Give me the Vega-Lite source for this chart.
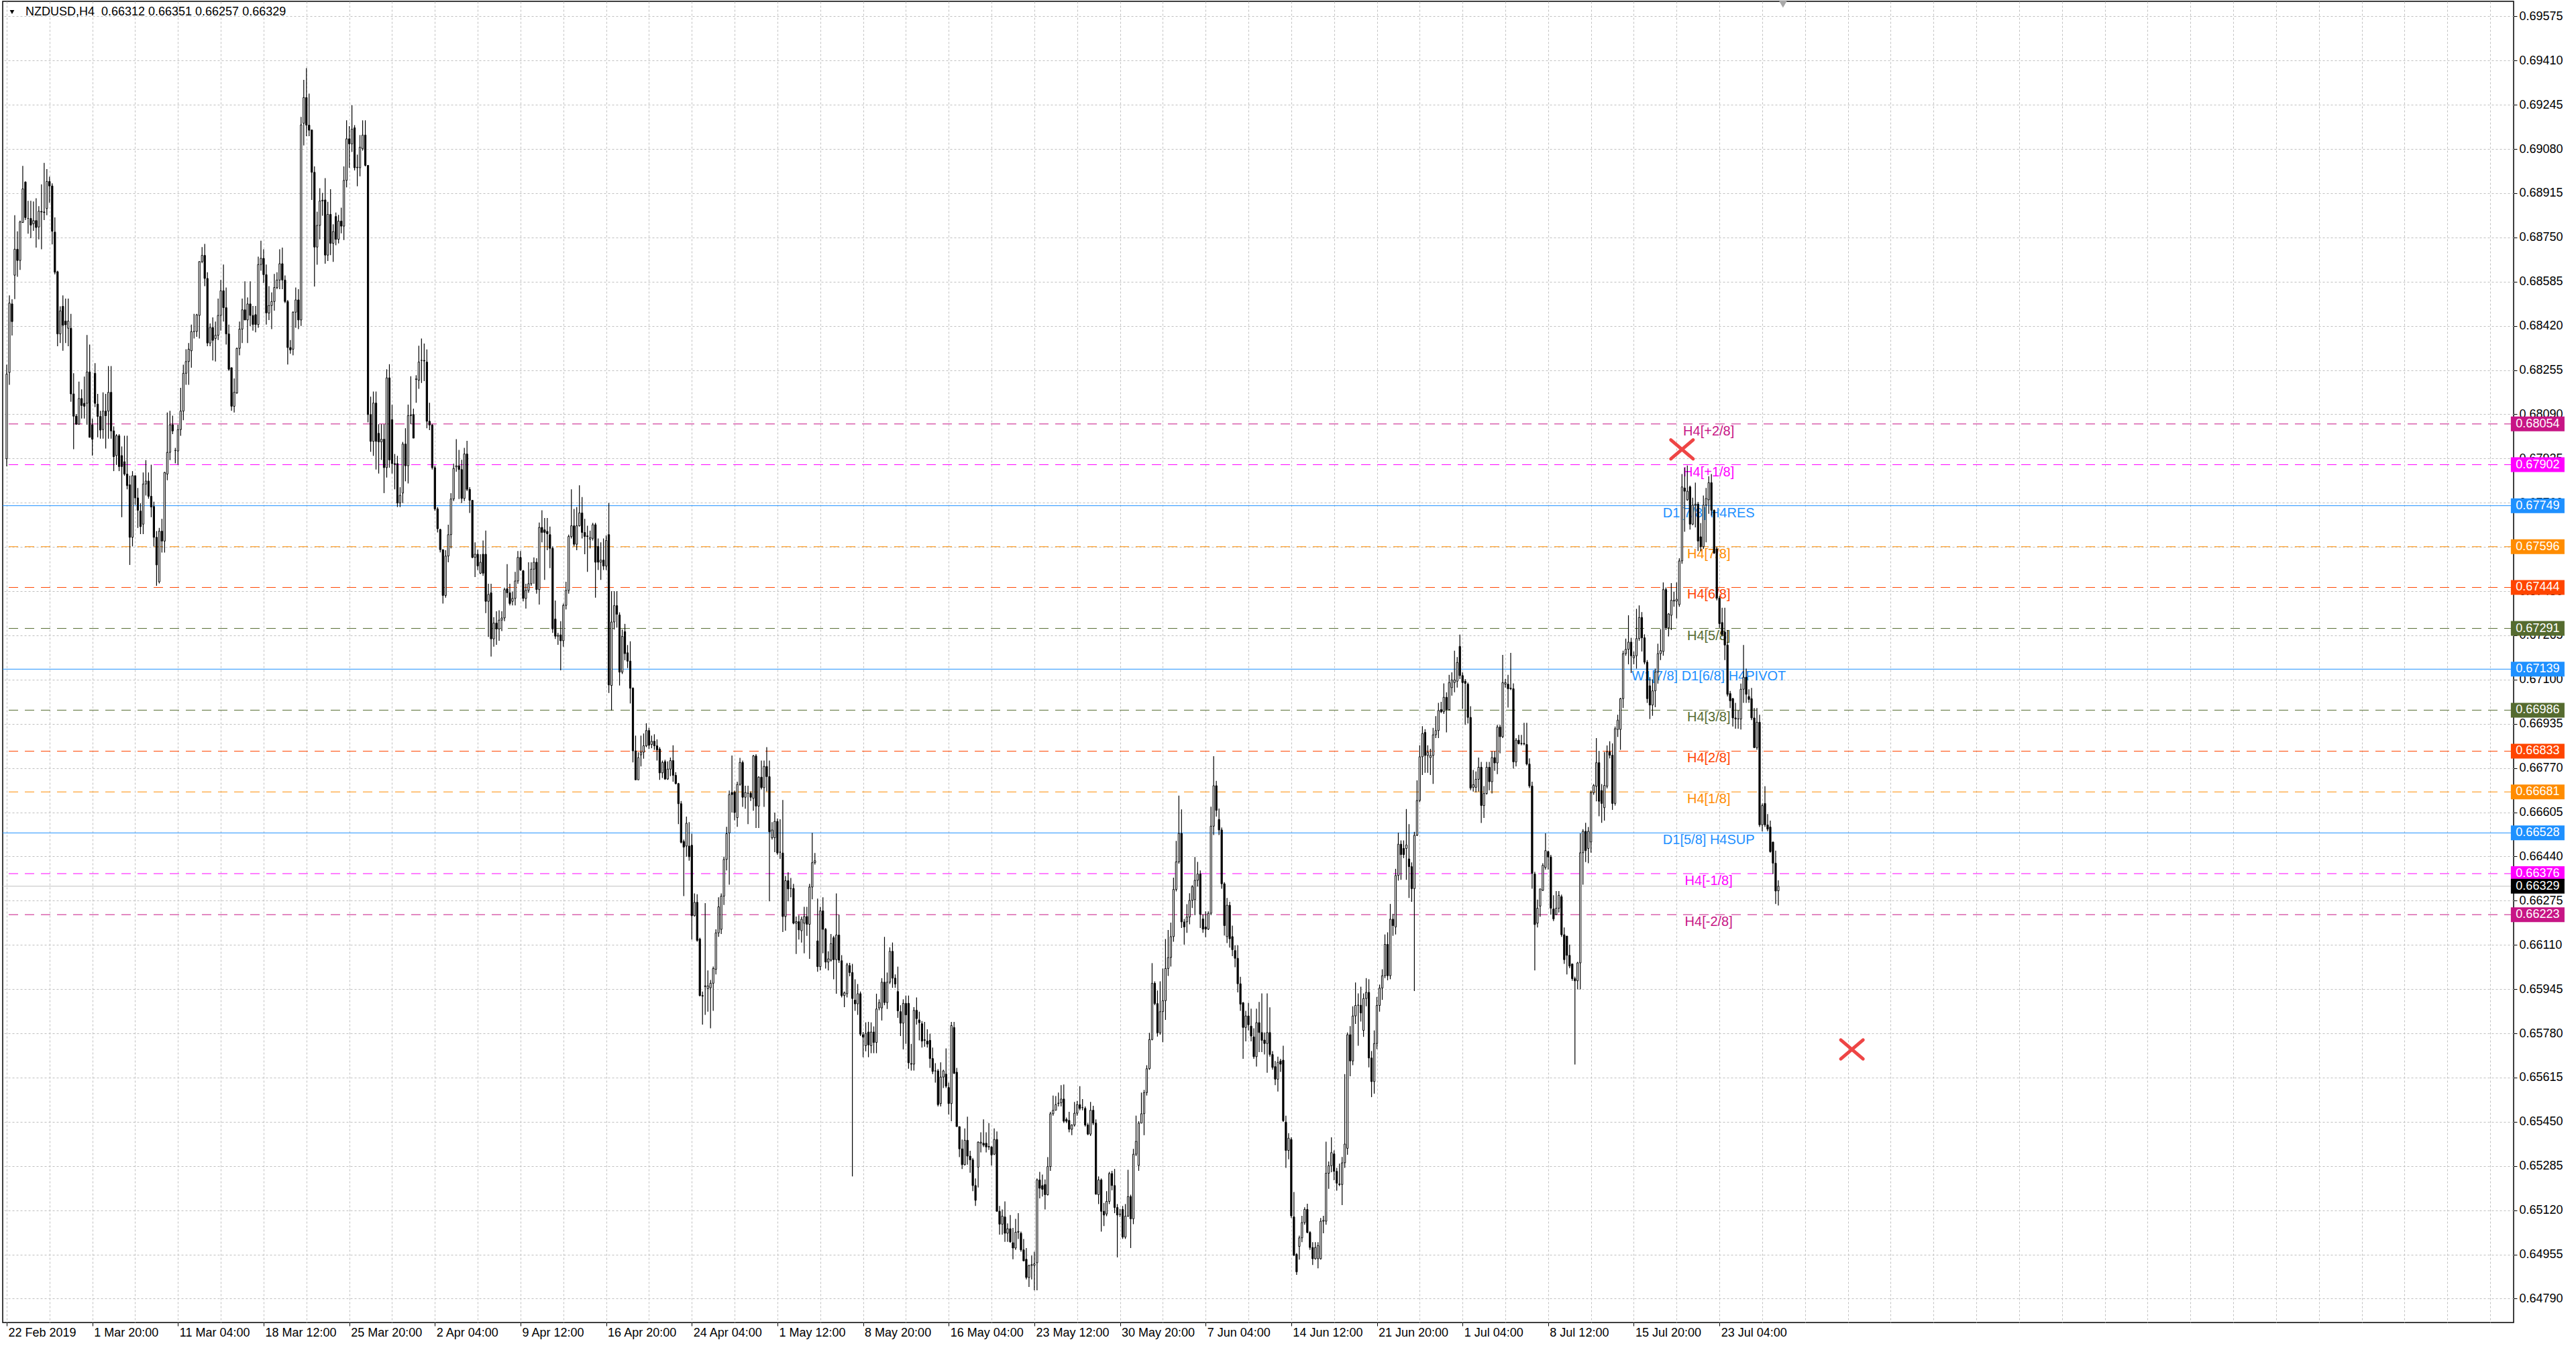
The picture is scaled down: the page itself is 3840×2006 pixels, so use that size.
{
  "$schema": "https://vega.github.io/schema/vega-lite/v6.json",
  "width": 3743,
  "height": 1969,
  "autosize": {"type": "none"},
  "padding": {"left": 4, "top": 2, "right": 93, "bottom": 35},
  "background": "#FFFFFF",
  "config": {
    "view": {"stroke": "#000000", "strokeWidth": 1.5},
    "font": "Liberation Sans",
    "axis": {
      "labelFont": "Liberation Sans",
      "labelFontSize": 18,
      "labelColor": "#000000",
      "gridColor": "#C0C0C0",
      "gridDash": [3, 3],
      "gridWidth": 1,
      "gridOpacity": 1,
      "domain": false,
      "tickColor": "#000000",
      "tickWidth": 1
    }
  },
  "datasets": {
    "levels": [
      {"m": "+2/8", "p": 0.68054, "t": "H4[+2/8]"},
      {"m": "+1/8", "p": 0.67902, "t": "H4[+1/8]"},
      {"m": "8/8", "p": 0.67749, "t": "D1[7/8] H4RES"},
      {"m": "7/8", "p": 0.67596, "t": "H4[7/8]"},
      {"m": "6/8", "p": 0.67444, "t": "H4[6/8]"},
      {"m": "5/8", "p": 0.67291, "t": "H4[5/8]"},
      {"m": "4/8", "p": 0.67139, "t": "W1[7/8] D1[6/8] H4PIVOT"},
      {"m": "3/8", "p": 0.66986, "t": "H4[3/8]"},
      {"m": "2/8", "p": 0.66833, "t": "H4[2/8]"},
      {"m": "1/8", "p": 0.66681, "t": "H4[1/8]"},
      {"m": "0/8", "p": 0.66528, "t": "D1[5/8] H4SUP"},
      {"m": "-1/8", "p": 0.66376, "t": "H4[-1/8]"},
      {"m": "-2/8", "p": 0.66223, "t": "H4[-2/8]"}
    ],
    "crosses": [
      {"i": 626, "p": 0.67959},
      {"i": 689.5, "p": 0.6572}
    ],
    "bars": [
{"i":0,"o":0.67924,"h":0.68275,"l":0.67896,"c":0.6824},
{"i":1,"o":0.68246,"h":0.68534,"l":0.682,"c":0.68505},
{"i":2,"o":0.68502,"h":0.68519,"l":0.68384,"c":0.68436},
{"i":3,"o":0.68609,"h":0.68833,"l":0.6852,"c":0.68706},
{"i":4,"o":0.68706,"h":0.68773,"l":0.68603,"c":0.68664},
{"i":5,"o":0.68664,"h":0.68813,"l":0.68629,"c":0.68808},
{"i":6,"o":0.68806,"h":0.69017,"l":0.68804,"c":0.68931},
{"i":7,"o":0.68957,"h":0.68959,"l":0.68815,"c":0.68824},
{"i":8,"o":0.68821,"h":0.68887,"l":0.68764,"c":0.68821},
{"i":9,"o":0.68821,"h":0.68887,"l":0.68747,"c":0.68796},
{"i":10,"o":0.68801,"h":0.68884,"l":0.68775,"c":0.68813},
{"i":11,"o":0.68813,"h":0.68896,"l":0.68712,"c":0.68787},
{"i":12,"o":0.68789,"h":0.68867,"l":0.68743,"c":0.68848},
{"i":13,"o":0.68847,"h":0.68948,"l":0.68706,"c":0.68845},
{"i":14,"o":0.68845,"h":0.69028,"l":0.68815,"c":0.68843},
{"i":15,"o":0.68858,"h":0.69005,"l":0.68833,"c":0.68959},
{"i":16,"o":0.68959,"h":0.68977,"l":0.68879,"c":0.68942},
{"i":17,"o":0.68942,"h":0.68952,"l":0.68724,"c":0.68773},
{"i":18,"o":0.6877,"h":0.68825,"l":0.68612,"c":0.6862},
{"i":19,"o":0.68622,"h":0.68626,"l":0.68344,"c":0.6839},
{"i":20,"o":0.6839,"h":0.68493,"l":0.68356,"c":0.68476},
{"i":21,"o":0.68493,"h":0.68534,"l":0.68327,"c":0.68422},
{"i":22,"o":0.68438,"h":0.68522,"l":0.68356,"c":0.68424},
{"i":23,"o":0.68411,"h":0.68522,"l":0.68344,"c":0.68438},
{"i":24,"o":0.68411,"h":0.68465,"l":0.68137,"c":0.68166},
{"i":25,"o":0.68166,"h":0.68243,"l":0.6796,"c":0.68083},
{"i":26,"o":0.68083,"h":0.68091,"l":0.68051,"c":0.68053},
{"i":27,"o":0.68053,"h":0.68212,"l":0.68051,"c":0.68149},
{"i":28,"o":0.68149,"h":0.68183,"l":0.68074,"c":0.68123},
{"i":29,"o":0.68131,"h":0.68231,"l":0.68074,"c":0.6812},
{"i":30,"o":0.68131,"h":0.68386,"l":0.68051,"c":0.68248},
{"i":31,"o":0.68248,"h":0.6835,"l":0.68004,"c":0.68004},
{"i":32,"o":0.68051,"h":0.68074,"l":0.67936,"c":0.67997},
{"i":33,"o":0.68243,"h":0.68281,"l":0.68117,"c":0.68131},
{"i":34,"o":0.68128,"h":0.68166,"l":0.68004,"c":0.68082},
{"i":35,"o":0.68082,"h":0.68103,"l":0.67999,"c":0.68031},
{"i":36,"o":0.68033,"h":0.68172,"l":0.67999,"c":0.68102},
{"i":37,"o":0.68102,"h":0.68166,"l":0.67962,"c":0.68085},
{"i":38,"o":0.68102,"h":0.6827,"l":0.67999,"c":0.68172},
{"i":39,"o":0.68172,"h":0.6827,"l":0.67999,"c":0.68028},
{"i":40,"o":0.68028,"h":0.68045,"l":0.67878,"c":0.67932},
{"i":41,"o":0.67936,"h":0.68016,"l":0.67901,"c":0.6801},
{"i":42,"o":0.6801,"h":0.68016,"l":0.67878,"c":0.67895},
{"i":43,"o":0.67936,"h":0.6797,"l":0.67706,"c":0.67895},
{"i":44,"o":0.67913,"h":0.6801,"l":0.67861,"c":0.67867},
{"i":45,"o":0.67867,"h":0.6801,"l":0.6781,"c":0.67824},
{"i":46,"o":0.67827,"h":0.67861,"l":0.67528,"c":0.67631},
{"i":47,"o":0.67631,"h":0.67878,"l":0.67597,"c":0.67861},
{"i":48,"o":0.67861,"h":0.67861,"l":0.67752,"c":0.67778},
{"i":49,"o":0.67778,"h":0.67815,"l":0.67666,"c":0.67732},
{"i":50,"o":0.67729,"h":0.67758,"l":0.67643,"c":0.67671},
{"i":51,"o":0.6768,"h":0.67873,"l":0.67643,"c":0.6783},
{"i":52,"o":0.6783,"h":0.67919,"l":0.67787,"c":0.67841},
{"i":53,"o":0.67841,"h":0.67873,"l":0.67775,"c":0.67784},
{"i":54,"o":0.67784,"h":0.67902,"l":0.67706,"c":0.67744},
{"i":55,"o":0.67746,"h":0.67764,"l":0.67597,"c":0.67631},
{"i":56,"o":0.67631,"h":0.67654,"l":0.6745,"c":0.67528},
{"i":57,"o":0.67465,"h":0.67666,"l":0.67459,"c":0.67654},
{"i":58,"o":0.67654,"h":0.677,"l":0.67574,"c":0.67617},
{"i":59,"o":0.67617,"h":0.67875,"l":0.67574,"c":0.67873},
{"i":60,"o":0.67867,"h":0.68097,"l":0.67844,"c":0.67948},
{"i":61,"o":0.67948,"h":0.68103,"l":0.67919,"c":0.68051},
{"i":62,"o":0.68051,"h":0.68085,"l":0.68016,"c":0.68028},
{"i":63,"o":0.67955,"h":0.67965,"l":0.67907,"c":0.67955},
{"i":64,"o":0.67953,"h":0.68051,"l":0.67902,"c":0.68033},
{"i":65,"o":0.68033,"h":0.68189,"l":0.6801,"c":0.68102},
{"i":66,"o":0.68102,"h":0.68275,"l":0.68068,"c":0.68243},
{"i":67,"o":0.68243,"h":0.68333,"l":0.682,"c":0.68287},
{"i":68,"o":0.68287,"h":0.68356,"l":0.682,"c":0.68333},
{"i":69,"o":0.68327,"h":0.68425,"l":0.68264,"c":0.68399},
{"i":70,"o":0.68399,"h":0.68465,"l":0.68373,"c":0.68399},
{"i":71,"o":0.68399,"h":0.68465,"l":0.68379,"c":0.68461},
{"i":72,"o":0.68459,"h":0.6866,"l":0.68373,"c":0.6866},
{"i":73,"o":0.6866,"h":0.68714,"l":0.68654,"c":0.68683},
{"i":74,"o":0.68683,"h":0.68726,"l":0.68568,"c":0.68597},
{"i":75,"o":0.68597,"h":0.6862,"l":0.68344,"c":0.68356},
{"i":76,"o":0.68356,"h":0.68429,"l":0.68344,"c":0.68414},
{"i":77,"o":0.68414,"h":0.68452,"l":0.68291,"c":0.68366},
{"i":78,"o":0.68373,"h":0.68436,"l":0.68287,"c":0.68385},
{"i":79,"o":0.68385,"h":0.68522,"l":0.68367,"c":0.68459},
{"i":80,"o":0.68459,"h":0.68591,"l":0.68402,"c":0.68551},
{"i":81,"o":0.68551,"h":0.68649,"l":0.68436,"c":0.68488},
{"i":82,"o":0.68488,"h":0.68563,"l":0.6835,"c":0.6839},
{"i":83,"o":0.6839,"h":0.68425,"l":0.68252,"c":0.68258},
{"i":84,"o":0.68264,"h":0.68264,"l":0.68103,"c":0.6812},
{"i":85,"o":0.6812,"h":0.68224,"l":0.68097,"c":0.68172},
{"i":86,"o":0.6817,"h":0.68339,"l":0.68166,"c":0.68336},
{"i":87,"o":0.68336,"h":0.68436,"l":0.6831,"c":0.68408},
{"i":88,"o":0.68408,"h":0.68522,"l":0.68356,"c":0.6848},
{"i":89,"o":0.6848,"h":0.68586,"l":0.68442,"c":0.68442},
{"i":90,"o":0.68442,"h":0.68526,"l":0.68356,"c":0.68502},
{"i":91,"o":0.68502,"h":0.68586,"l":0.68419,"c":0.68459},
{"i":92,"o":0.68459,"h":0.68494,"l":0.68402,"c":0.68425},
{"i":93,"o":0.68462,"h":0.68494,"l":0.68396,"c":0.68425},
{"i":94,"o":0.68425,"h":0.68678,"l":0.68413,"c":0.68649},
{"i":95,"o":0.68649,"h":0.68738,"l":0.68626,"c":0.68672},
{"i":96,"o":0.68672,"h":0.68706,"l":0.6858,"c":0.68611},
{"i":97,"o":0.68611,"h":0.68649,"l":0.68425,"c":0.68468},
{"i":98,"o":0.68468,"h":0.68568,"l":0.68442,"c":0.68496},
{"i":99,"o":0.68496,"h":0.68545,"l":0.68408,"c":0.68511},
{"i":100,"o":0.68511,"h":0.68614,"l":0.68477,"c":0.68563},
{"i":101,"o":0.68563,"h":0.6862,"l":0.68557,"c":0.68591},
{"i":102,"o":0.68591,"h":0.68706,"l":0.68557,"c":0.68652},
{"i":103,"o":0.68652,"h":0.68712,"l":0.68557,"c":0.68591},
{"i":104,"o":0.68591,"h":0.68608,"l":0.68505,"c":0.68511},
{"i":105,"o":0.68511,"h":0.68517,"l":0.68276,"c":0.68339},
{"i":106,"o":0.68339,"h":0.68367,"l":0.68316,"c":0.6833},
{"i":107,"o":0.68333,"h":0.68474,"l":0.6831,"c":0.68471},
{"i":108,"o":0.68471,"h":0.68563,"l":0.68413,"c":0.68517},
{"i":109,"o":0.68517,"h":0.68557,"l":0.68408,"c":0.68442},
{"i":110,"o":0.68442,"h":0.692,"l":0.6842,"c":0.6917},
{"i":111,"o":0.69176,"h":0.69338,"l":0.69093,"c":0.69272},
{"i":112,"o":0.69272,"h":0.69382,"l":0.69128,"c":0.69169},
{"i":113,"o":0.69169,"h":0.69287,"l":0.69128,"c":0.6915},
{"i":114,"o":0.69151,"h":0.69151,"l":0.6889,"c":0.68993},
{"i":115,"o":0.68993,"h":0.69015,"l":0.68567,"c":0.68714},
{"i":116,"o":0.68714,"h":0.68846,"l":0.68648,"c":0.68795},
{"i":117,"o":0.68795,"h":0.68934,"l":0.68743,"c":0.68886},
{"i":118,"o":0.68886,"h":0.68916,"l":0.68831,"c":0.68889},
{"i":119,"o":0.6889,"h":0.68971,"l":0.68652,"c":0.68684},
{"i":120,"o":0.68684,"h":0.68883,"l":0.68662,"c":0.68836},
{"i":121,"o":0.68836,"h":0.6893,"l":0.68684,"c":0.68728},
{"i":122,"o":0.68728,"h":0.68799,"l":0.68659,"c":0.68772},
{"i":123,"o":0.68828,"h":0.68843,"l":0.68721,"c":0.68743},
{"i":124,"o":0.68743,"h":0.68834,"l":0.68728,"c":0.68811},
{"i":125,"o":0.68811,"h":0.68861,"l":0.68765,"c":0.68792},
{"i":126,"o":0.68792,"h":0.69015,"l":0.6874,"c":0.68963},
{"i":127,"o":0.68963,"h":0.69187,"l":0.68937,"c":0.69118},
{"i":128,"o":0.69118,"h":0.69165,"l":0.6901,"c":0.69099},
{"i":129,"o":0.69099,"h":0.69243,"l":0.69069,"c":0.69154},
{"i":130,"o":0.69159,"h":0.69169,"l":0.69,"c":0.6901},
{"i":131,"o":0.6901,"h":0.69059,"l":0.68941,"c":0.69012},
{"i":132,"o":0.6901,"h":0.69132,"l":0.68978,"c":0.69087},
{"i":133,"o":0.69081,"h":0.69187,"l":0.69074,"c":0.69132},
{"i":134,"o":0.69132,"h":0.69187,"l":0.69015,"c":0.69019},
{"i":135,"o":0.69019,"h":0.69019,"l":0.6806,"c":0.68089},
{"i":136,"o":0.68089,"h":0.68156,"l":0.6795,"c":0.67989},
{"i":137,"o":0.67989,"h":0.68175,"l":0.67935,"c":0.68132},
{"i":138,"o":0.68132,"h":0.68175,"l":0.67884,"c":0.67989},
{"i":139,"o":0.68019,"h":0.68053,"l":0.67869,"c":0.67987},
{"i":140,"o":0.67987,"h":0.68053,"l":0.6792,"c":0.67997},
{"i":141,"o":0.67997,"h":0.68053,"l":0.67796,"c":0.67891},
{"i":142,"o":0.67891,"h":0.68258,"l":0.67854,"c":0.68226},
{"i":143,"o":0.68226,"h":0.68277,"l":0.67891,"c":0.6792},
{"i":144,"o":0.6807,"h":0.68126,"l":0.67869,"c":0.67906},
{"i":145,"o":0.67906,"h":0.67942,"l":0.6781,"c":0.67903},
{"i":146,"o":0.67906,"h":0.67935,"l":0.67744,"c":0.67759},
{"i":147,"o":0.67759,"h":0.67818,"l":0.67744,"c":0.67788},
{"i":148,"o":0.67796,"h":0.67987,"l":0.67759,"c":0.67979},
{"i":149,"o":0.67979,"h":0.68038,"l":0.6784,"c":0.67898},
{"i":150,"o":0.67898,"h":0.68126,"l":0.67832,"c":0.68085},
{"i":151,"o":0.68085,"h":0.68232,"l":0.68053,"c":0.68088},
{"i":152,"o":0.68089,"h":0.68111,"l":0.68001,"c":0.68001},
{"i":153,"o":0.6822,"h":0.68236,"l":0.68133,"c":0.68222},
{"i":154,"o":0.68217,"h":0.68346,"l":0.68185,"c":0.68285},
{"i":155,"o":0.68291,"h":0.68373,"l":0.68207,"c":0.68291},
{"i":156,"o":0.68291,"h":0.68354,"l":0.68214,"c":0.68289},
{"i":157,"o":0.68285,"h":0.68332,"l":0.68038,"c":0.68064},
{"i":158,"o":0.68064,"h":0.68133,"l":0.68031,"c":0.6805},
{"i":159,"o":0.6805,"h":0.68053,"l":0.67884,"c":0.67891},
{"i":160,"o":0.67891,"h":0.67898,"l":0.6773,"c":0.67737},
{"i":161,"o":0.67737,"h":0.67744,"l":0.67649,"c":0.67663},
{"i":162,"o":0.6766,"h":0.67663,"l":0.67575,"c":0.67585},
{"i":163,"o":0.67585,"h":0.67585,"l":0.67384,"c":0.67414},
{"i":164,"o":0.67414,"h":0.67583,"l":0.67406,"c":0.67561},
{"i":165,"o":0.67561,"h":0.67678,"l":0.67538,"c":0.67641},
{"i":166,"o":0.67641,"h":0.67796,"l":0.6759,"c":0.67774},
{"i":167,"o":0.67774,"h":0.67906,"l":0.67766,"c":0.67888},
{"i":168,"o":0.67894,"h":0.67997,"l":0.67876,"c":0.67898},
{"i":169,"o":0.67898,"h":0.67957,"l":0.67774,"c":0.67884},
{"i":170,"o":0.67884,"h":0.6792,"l":0.67759,"c":0.67776},
{"i":171,"o":0.67776,"h":0.67965,"l":0.67766,"c":0.67942},
{"i":172,"o":0.67942,"h":0.67991,"l":0.67803,"c":0.6781},
{"i":173,"o":0.6781,"h":0.67818,"l":0.67722,"c":0.67769},
{"i":174,"o":0.67769,"h":0.67769,"l":0.67553,"c":0.67556},
{"i":175,"o":0.67556,"h":0.67612,"l":0.67483,"c":0.67568},
{"i":176,"o":0.67568,"h":0.67585,"l":0.67509,"c":0.67524},
{"i":177,"o":0.67497,"h":0.67568,"l":0.67494,"c":0.67538},
{"i":178,"o":0.67568,"h":0.67619,"l":0.67487,"c":0.67497},
{"i":179,"o":0.67568,"h":0.67656,"l":0.67348,"c":0.67392},
{"i":180,"o":0.67392,"h":0.67458,"l":0.67259,"c":0.67418},
{"i":181,"o":0.67424,"h":0.67458,"l":0.67186,"c":0.67252},
{"i":182,"o":0.67252,"h":0.67333,"l":0.67223,"c":0.67311},
{"i":183,"o":0.67311,"h":0.67355,"l":0.6723,"c":0.67289},
{"i":184,"o":0.67289,"h":0.67359,"l":0.67245,"c":0.67322},
{"i":185,"o":0.67322,"h":0.67355,"l":0.67281,"c":0.6733},
{"i":186,"o":0.6733,"h":0.67443,"l":0.67318,"c":0.67436},
{"i":187,"o":0.67439,"h":0.67531,"l":0.67406,"c":0.67424},
{"i":188,"o":0.67424,"h":0.67458,"l":0.67377,"c":0.67384},
{"i":189,"o":0.67392,"h":0.67428,"l":0.67377,"c":0.67403},
{"i":190,"o":0.67403,"h":0.67502,"l":0.67377,"c":0.67468},
{"i":191,"o":0.67468,"h":0.6758,"l":0.67458,"c":0.67556},
{"i":192,"o":0.67556,"h":0.6758,"l":0.67506,"c":0.67509},
{"i":193,"o":0.67506,"h":0.67509,"l":0.67392,"c":0.67403},
{"i":194,"o":0.67403,"h":0.67458,"l":0.67365,"c":0.67433},
{"i":195,"o":0.67433,"h":0.67538,"l":0.67424,"c":0.67458},
{"i":196,"o":0.67458,"h":0.67538,"l":0.6745,"c":0.67512},
{"i":197,"o":0.67512,"h":0.67556,"l":0.67458,"c":0.67538},
{"i":198,"o":0.67538,"h":0.67553,"l":0.67421,"c":0.67436},
{"i":199,"o":0.67436,"h":0.67686,"l":0.6738,"c":0.67668},
{"i":200,"o":0.67668,"h":0.67732,"l":0.67612,"c":0.67649},
{"i":201,"o":0.67659,"h":0.67703,"l":0.67472,"c":0.67649},
{"i":202,"o":0.67653,"h":0.67703,"l":0.67583,"c":0.67644},
{"i":203,"o":0.67641,"h":0.67671,"l":0.67516,"c":0.6759},
{"i":204,"o":0.6759,"h":0.67597,"l":0.67274,"c":0.67289},
{"i":205,"o":0.67326,"h":0.67395,"l":0.67252,"c":0.67262},
{"i":206,"o":0.67262,"h":0.67274,"l":0.6723,"c":0.67265},
{"i":207,"o":0.67267,"h":0.67318,"l":0.67135,"c":0.67245},
{"i":208,"o":0.67245,"h":0.67384,"l":0.67223,"c":0.67377},
{"i":209,"o":0.67377,"h":0.67465,"l":0.67362,"c":0.67433},
{"i":210,"o":0.67433,"h":0.67641,"l":0.67421,"c":0.67634},
{"i":211,"o":0.67634,"h":0.6781,"l":0.67627,"c":0.67674},
{"i":212,"o":0.67674,"h":0.67737,"l":0.67597,"c":0.67605},
{"i":213,"o":0.67605,"h":0.67744,"l":0.67583,"c":0.67674},
{"i":214,"o":0.67674,"h":0.67825,"l":0.67671,"c":0.67722},
{"i":215,"o":0.67722,"h":0.67781,"l":0.67627,"c":0.67649},
{"i":216,"o":0.67649,"h":0.677,"l":0.67568,"c":0.67634},
{"i":217,"o":0.67636,"h":0.67674,"l":0.67502,"c":0.67634},
{"i":218,"o":0.67624,"h":0.67656,"l":0.6759,"c":0.6763},
{"i":219,"o":0.67627,"h":0.67685,"l":0.67619,"c":0.67678},
{"i":220,"o":0.67678,"h":0.67685,"l":0.67406,"c":0.67538},
{"i":221,"o":0.67597,"h":0.67627,"l":0.67509,"c":0.67538},
{"i":222,"o":0.67538,"h":0.67612,"l":0.67472,"c":0.67546},
{"i":223,"o":0.67546,"h":0.67627,"l":0.67509,"c":0.67524},
{"i":224,"o":0.67524,"h":0.67638,"l":0.67509,"c":0.67619},
{"i":225,"o":0.67641,"h":0.67759,"l":0.6705,"c":0.6708},
{"i":226,"o":0.67078,"h":0.6743,"l":0.66985,"c":0.67315},
{"i":227,"o":0.67315,"h":0.6743,"l":0.67287,"c":0.67376},
{"i":228,"o":0.67376,"h":0.6743,"l":0.67294,"c":0.67344},
{"i":229,"o":0.67341,"h":0.67351,"l":0.67078,"c":0.67128},
{"i":230,"o":0.67128,"h":0.67287,"l":0.67121,"c":0.67261},
{"i":231,"o":0.67279,"h":0.67308,"l":0.67172,"c":0.67197},
{"i":232,"o":0.672,"h":0.67229,"l":0.67143,"c":0.67169},
{"i":233,"o":0.67169,"h":0.67243,"l":0.67011,"c":0.67068},
{"i":234,"o":0.67068,"h":0.67071,"l":0.66791,"c":0.66834},
{"i":235,"o":0.66834,"h":0.66891,"l":0.66726,"c":0.66726},
{"i":236,"o":0.66726,"h":0.66829,"l":0.66726,"c":0.66809},
{"i":237,"o":0.66819,"h":0.66891,"l":0.66776,"c":0.66829},
{"i":238,"o":0.66829,"h":0.66899,"l":0.66805,"c":0.66853},
{"i":239,"o":0.66853,"h":0.66937,"l":0.66848,"c":0.6691},
{"i":240,"o":0.6691,"h":0.6692,"l":0.66841,"c":0.66855},
{"i":241,"o":0.66858,"h":0.66891,"l":0.66844,"c":0.6687},
{"i":242,"o":0.6687,"h":0.66896,"l":0.66838,"c":0.66853},
{"i":243,"o":0.66853,"h":0.66877,"l":0.66798,"c":0.66838},
{"i":244,"o":0.66841,"h":0.66848,"l":0.66726,"c":0.66752},
{"i":245,"o":0.66752,"h":0.66798,"l":0.66733,"c":0.66791},
{"i":246,"o":0.66794,"h":0.66801,"l":0.66726,"c":0.66729},
{"i":247,"o":0.66729,"h":0.66795,"l":0.66726,"c":0.66766},
{"i":248,"o":0.66766,"h":0.66809,"l":0.6674,"c":0.66798},
{"i":249,"o":0.66798,"h":0.66855,"l":0.66719,"c":0.66743},
{"i":250,"o":0.66743,"h":0.66755,"l":0.66709,"c":0.66712},
{"i":251,"o":0.66712,"h":0.66715,"l":0.66561,"c":0.66637},
{"i":252,"o":0.66637,"h":0.66647,"l":0.66489,"c":0.66493},
{"i":253,"o":0.66496,"h":0.66503,"l":0.66292,"c":0.66475},
{"i":254,"o":0.66479,"h":0.66589,"l":0.66439,"c":0.66564},
{"i":255,"o":0.66479,"h":0.66568,"l":0.66424,"c":0.66439},
{"i":256,"o":0.66482,"h":0.66525,"l":0.6613,"c":0.66219},
{"i":257,"o":0.66219,"h":0.66302,"l":0.66216,"c":0.66269},
{"i":258,"o":0.66269,"h":0.66299,"l":0.66122,"c":0.66127},
{"i":259,"o":0.66132,"h":0.66137,"l":0.65918,"c":0.65921},
{"i":260,"o":0.65921,"h":0.65936,"l":0.65813,"c":0.65919},
{"i":261,"o":0.65957,"h":0.66266,"l":0.65849,"c":0.65955},
{"i":262,"o":0.65947,"h":0.66015,"l":0.65861,"c":0.65957},
{"i":263,"o":0.6595,"h":0.65979,"l":0.65799,"c":0.65967},
{"i":264,"o":0.65967,"h":0.66029,"l":0.65864,"c":0.66022},
{"i":265,"o":0.66019,"h":0.66168,"l":0.66,"c":0.66155},
{"i":266,"o":0.66155,"h":0.66288,"l":0.6614,"c":0.66252},
{"i":267,"o":0.66168,"h":0.66302,"l":0.66151,"c":0.66292},
{"i":268,"o":0.66292,"h":0.66439,"l":0.66259,"c":0.66429},
{"i":269,"o":0.66429,"h":0.66551,"l":0.66388,"c":0.66525},
{"i":270,"o":0.66528,"h":0.66686,"l":0.66335,"c":0.66671},
{"i":271,"o":0.66679,"h":0.66817,"l":0.66604,"c":0.66671},
{"i":272,"o":0.6668,"h":0.66686,"l":0.66575,"c":0.66604},
{"i":273,"o":0.66585,"h":0.66719,"l":0.66551,"c":0.66709},
{"i":274,"o":0.66709,"h":0.66808,"l":0.66704,"c":0.66791},
{"i":275,"o":0.66791,"h":0.66798,"l":0.66625,"c":0.66661},
{"i":276,"o":0.66661,"h":0.66704,"l":0.66618,"c":0.66679},
{"i":277,"o":0.66676,"h":0.66704,"l":0.66561,"c":0.66676},
{"i":278,"o":0.66676,"h":0.66683,"l":0.66647,"c":0.66661},
{"i":279,"o":0.66657,"h":0.66819,"l":0.66611,"c":0.66815},
{"i":280,"o":0.66815,"h":0.66822,"l":0.66546,"c":0.66628},
{"i":281,"o":0.66628,"h":0.6674,"l":0.66546,"c":0.66736},
{"i":282,"o":0.66736,"h":0.66798,"l":0.6669,"c":0.66697},
{"i":283,"o":0.66697,"h":0.66798,"l":0.66625,"c":0.66776},
{"i":284,"o":0.66776,"h":0.66848,"l":0.66683,"c":0.66738},
{"i":285,"o":0.66738,"h":0.66798,"l":0.66273,"c":0.66532},
{"i":286,"o":0.6651,"h":0.66568,"l":0.66503,"c":0.66539},
{"i":287,"o":0.6651,"h":0.66604,"l":0.66456,"c":0.66571},
{"i":288,"o":0.66571,"h":0.66582,"l":0.66446,"c":0.66453},
{"i":289,"o":0.66456,"h":0.66579,"l":0.66431,"c":0.66456},
{"i":290,"o":0.66453,"h":0.66651,"l":0.66158,"c":0.66216},
{"i":291,"o":0.66216,"h":0.66367,"l":0.66163,"c":0.6635},
{"i":292,"o":0.6635,"h":0.66381,"l":0.66273,"c":0.66319},
{"i":293,"o":0.66321,"h":0.6636,"l":0.66288,"c":0.66321},
{"i":294,"o":0.66321,"h":0.66338,"l":0.66187,"c":0.66191},
{"i":295,"o":0.66191,"h":0.66216,"l":0.66076,"c":0.66197},
{"i":296,"o":0.66197,"h":0.6622,"l":0.6613,"c":0.66166},
{"i":297,"o":0.66163,"h":0.66216,"l":0.66119,"c":0.66206},
{"i":298,"o":0.66191,"h":0.66252,"l":0.66079,"c":0.66216},
{"i":299,"o":0.66216,"h":0.66252,"l":0.66144,"c":0.66187},
{"i":300,"o":0.66187,"h":0.66338,"l":0.66058,"c":0.66326},
{"i":301,"o":0.66326,"h":0.66528,"l":0.6628,"c":0.66417},
{"i":302,"o":0.66417,"h":0.66453,"l":0.6641,"c":0.66424},
{"i":303,"o":0.66125,"h":0.66283,"l":0.6601,"c":0.66029},
{"i":304,"o":0.66029,"h":0.66252,"l":0.66015,"c":0.66237},
{"i":305,"o":0.66237,"h":0.66288,"l":0.66079,"c":0.66168},
{"i":306,"o":0.66168,"h":0.66173,"l":0.66022,"c":0.66046},
{"i":307,"o":0.66046,"h":0.66086,"l":0.66015,"c":0.66058},
{"i":308,"o":0.66053,"h":0.66151,"l":0.66048,"c":0.66115},
{"i":309,"o":0.66137,"h":0.66144,"l":0.65982,"c":0.66055},
{"i":310,"o":0.66055,"h":0.66302,"l":0.65928,"c":0.66147},
{"i":311,"o":0.66147,"h":0.66223,"l":0.66043,"c":0.66053},
{"i":312,"o":0.66051,"h":0.66072,"l":0.65914,"c":0.65921},
{"i":313,"o":0.65921,"h":0.65936,"l":0.65878,"c":0.65931},
{"i":314,"o":0.65928,"h":0.66043,"l":0.65914,"c":0.66036},
{"i":315,"o":0.66033,"h":0.66043,"l":0.65993,"c":0.66007},
{"i":316,"o":0.66007,"h":0.66039,"l":0.65246,"c":0.6591},
{"i":317,"o":0.65904,"h":0.65982,"l":0.65864,"c":0.6589},
{"i":318,"o":0.6589,"h":0.65964,"l":0.65849,"c":0.65928},
{"i":319,"o":0.65928,"h":0.65936,"l":0.6577,"c":0.65777},
{"i":320,"o":0.65775,"h":0.65785,"l":0.65691,"c":0.65766},
{"i":321,"o":0.65734,"h":0.65821,"l":0.65713,"c":0.6578},
{"i":322,"o":0.65785,"h":0.65823,"l":0.65691,"c":0.65737},
{"i":323,"o":0.65734,"h":0.65821,"l":0.65706,"c":0.65785},
{"i":324,"o":0.65785,"h":0.65806,"l":0.65706,"c":0.65746},
{"i":325,"o":0.65746,"h":0.65928,"l":0.65706,"c":0.65871},
{"i":326,"o":0.65875,"h":0.65907,"l":0.65866,"c":0.65895},
{"i":327,"o":0.65875,"h":0.65986,"l":0.65828,"c":0.65971},
{"i":328,"o":0.65971,"h":0.6614,"l":0.65885,"c":0.65895},
{"i":329,"o":0.65895,"h":0.66007,"l":0.65871,"c":0.65971},
{"i":330,"o":0.65971,"h":0.66101,"l":0.65964,"c":0.66086},
{"i":331,"o":0.66086,"h":0.66119,"l":0.6595,"c":0.65986},
{"i":332,"o":0.65986,"h":0.66,"l":0.6595,"c":0.65964},
{"i":333,"o":0.65936,"h":0.66029,"l":0.65838,"c":0.65864},
{"i":334,"o":0.65861,"h":0.65885,"l":0.6577,"c":0.65818},
{"i":335,"o":0.65818,"h":0.65907,"l":0.6572,"c":0.65892},
{"i":336,"o":0.65892,"h":0.65921,"l":0.65741,"c":0.65849},
{"i":337,"o":0.65892,"h":0.65921,"l":0.65648,"c":0.6567},
{"i":338,"o":0.65667,"h":0.65741,"l":0.65641,"c":0.65665},
{"i":339,"o":0.65665,"h":0.65878,"l":0.65641,"c":0.65866},
{"i":340,"o":0.65866,"h":0.65914,"l":0.65813,"c":0.65835},
{"i":341,"o":0.6583,"h":0.65861,"l":0.65754,"c":0.6582},
{"i":342,"o":0.65816,"h":0.65826,"l":0.65727,"c":0.65751},
{"i":343,"o":0.65756,"h":0.65823,"l":0.6573,"c":0.65754},
{"i":344,"o":0.65751,"h":0.65795,"l":0.65727,"c":0.6574},
{"i":345,"o":0.65754,"h":0.65779,"l":0.65651,"c":0.65686},
{"i":346,"o":0.65686,"h":0.65727,"l":0.65628,"c":0.65638},
{"i":347,"o":0.6564,"h":0.65669,"l":0.65596,"c":0.6564},
{"i":348,"o":0.6564,"h":0.65647,"l":0.65507,"c":0.65514},
{"i":349,"o":0.65518,"h":0.65672,"l":0.65507,"c":0.65617},
{"i":350,"o":0.65617,"h":0.65644,"l":0.65576,"c":0.6564},
{"i":351,"o":0.65628,"h":0.65724,"l":0.65576,"c":0.65583},
{"i":352,"o":0.65578,"h":0.65596,"l":0.65477,"c":0.65518},
{"i":353,"o":0.65518,"h":0.65823,"l":0.65452,"c":0.65809},
{"i":354,"o":0.65802,"h":0.65823,"l":0.65628,"c":0.65631},
{"i":355,"o":0.65635,"h":0.65651,"l":0.65432,"c":0.65432},
{"i":356,"o":0.65432,"h":0.65432,"l":0.65318,"c":0.65349},
{"i":357,"o":0.65349,"h":0.65384,"l":0.65274,"c":0.6529},
{"i":358,"o":0.6529,"h":0.65425,"l":0.65287,"c":0.65381},
{"i":359,"o":0.65381,"h":0.65469,"l":0.6529,"c":0.65322},
{"i":360,"o":0.65322,"h":0.65342,"l":0.6526,"c":0.65308},
{"i":361,"o":0.65308,"h":0.65315,"l":0.65191,"c":0.65212},
{"i":362,"o":0.65212,"h":0.65239,"l":0.65136,"c":0.65157},
{"i":363,"o":0.65281,"h":0.65377,"l":0.65205,"c":0.65374},
{"i":364,"o":0.6537,"h":0.65411,"l":0.65336,"c":0.65374},
{"i":365,"o":0.6537,"h":0.65459,"l":0.65356,"c":0.65363},
{"i":366,"o":0.6537,"h":0.65411,"l":0.65336,"c":0.65356},
{"i":367,"o":0.65358,"h":0.65445,"l":0.65345,"c":0.65356},
{"i":368,"o":0.65356,"h":0.65359,"l":0.65287,"c":0.65326},
{"i":369,"o":0.65329,"h":0.65425,"l":0.65326,"c":0.65384},
{"i":370,"o":0.65384,"h":0.65414,"l":0.65116,"c":0.65116},
{"i":371,"o":0.65116,"h":0.65136,"l":0.65029,"c":0.65068},
{"i":372,"o":0.65068,"h":0.65123,"l":0.65029,"c":0.65098},
{"i":373,"o":0.65095,"h":0.65153,"l":0.65002,"c":0.65034},
{"i":374,"o":0.65034,"h":0.65071,"l":0.65002,"c":0.65051},
{"i":375,"o":0.65051,"h":0.65102,"l":0.64999,"c":0.65002},
{"i":376,"o":0.64999,"h":0.65054,"l":0.64937,"c":0.64979},
{"i":377,"o":0.64979,"h":0.65088,"l":0.64972,"c":0.65038},
{"i":378,"o":0.65038,"h":0.65109,"l":0.65013,"c":0.65041},
{"i":379,"o":0.65034,"h":0.6504,"l":0.64965,"c":0.64972},
{"i":380,"o":0.64972,"h":0.65013,"l":0.64931,"c":0.64931},
{"i":381,"o":0.64937,"h":0.64979,"l":0.64862,"c":0.64869},
{"i":382,"o":0.64869,"h":0.64917,"l":0.64834,"c":0.64914},
{"i":383,"o":0.64914,"h":0.64951,"l":0.64862,"c":0.64917},
{"i":384,"o":0.64914,"h":0.64965,"l":0.64821,"c":0.6492},
{"i":385,"o":0.64924,"h":0.65239,"l":0.64821,"c":0.65233},
{"i":386,"o":0.65233,"h":0.65263,"l":0.65164,"c":0.65202},
{"i":387,"o":0.65212,"h":0.65253,"l":0.65171,"c":0.65198},
{"i":388,"o":0.65216,"h":0.65235,"l":0.65123,"c":0.65178},
{"i":389,"o":0.65178,"h":0.65318,"l":0.65175,"c":0.65283},
{"i":390,"o":0.65283,"h":0.65487,"l":0.65267,"c":0.6548},
{"i":391,"o":0.6548,"h":0.65548,"l":0.65473,"c":0.65493},
{"i":392,"o":0.65493,"h":0.65546,"l":0.65493,"c":0.65514},
{"i":393,"o":0.65518,"h":0.65559,"l":0.65507,"c":0.6552},
{"i":394,"o":0.65521,"h":0.65587,"l":0.65507,"c":0.65535},
{"i":395,"o":0.65535,"h":0.65589,"l":0.65445,"c":0.65452},
{"i":396,"o":0.65459,"h":0.65466,"l":0.65445,"c":0.65452},
{"i":397,"o":0.65455,"h":0.65487,"l":0.65411,"c":0.65422},
{"i":398,"o":0.65422,"h":0.65441,"l":0.654,"c":0.65438},
{"i":399,"o":0.65438,"h":0.65524,"l":0.65432,"c":0.65482},
{"i":400,"o":0.65482,"h":0.65528,"l":0.65473,"c":0.65514},
{"i":401,"o":0.65514,"h":0.65583,"l":0.65493,"c":0.655},
{"i":402,"o":0.65503,"h":0.65535,"l":0.65493,"c":0.65503},
{"i":403,"o":0.655,"h":0.65507,"l":0.65432,"c":0.65438},
{"i":404,"o":0.65438,"h":0.65445,"l":0.654,"c":0.65404},
{"i":405,"o":0.65404,"h":0.65524,"l":0.65397,"c":0.65493},
{"i":406,"o":0.65493,"h":0.6551,"l":0.65438,"c":0.65445},
{"i":407,"o":0.65445,"h":0.65459,"l":0.65178,"c":0.6518},
{"i":408,"o":0.65178,"h":0.65246,"l":0.65143,"c":0.65233},
{"i":409,"o":0.65233,"h":0.65239,"l":0.6504,"c":0.65116},
{"i":410,"o":0.65116,"h":0.65147,"l":0.65061,"c":0.65102},
{"i":411,"o":0.65106,"h":0.65191,"l":0.65098,"c":0.65153},
{"i":412,"o":0.65153,"h":0.65263,"l":0.65143,"c":0.65257},
{"i":413,"o":0.65257,"h":0.65267,"l":0.65194,"c":0.65212},
{"i":414,"o":0.65212,"h":0.65274,"l":0.65109,"c":0.6513},
{"i":415,"o":0.6513,"h":0.65143,"l":0.64944,"c":0.65102},
{"i":416,"o":0.65105,"h":0.65125,"l":0.65095,"c":0.65105},
{"i":417,"o":0.65123,"h":0.65136,"l":0.65013,"c":0.6502},
{"i":418,"o":0.6502,"h":0.65143,"l":0.65013,"c":0.65098},
{"i":419,"o":0.65098,"h":0.65271,"l":0.65095,"c":0.65171},
{"i":420,"o":0.65171,"h":0.65178,"l":0.64979,"c":0.65088},
{"i":421,"o":0.65088,"h":0.65349,"l":0.65068,"c":0.65329},
{"i":422,"o":0.65329,"h":0.65473,"l":0.65322,"c":0.65377},
{"i":423,"o":0.65287,"h":0.65452,"l":0.65267,"c":0.65445},
{"i":424,"o":0.65445,"h":0.65559,"l":0.65445,"c":0.6548},
{"i":425,"o":0.6548,"h":0.65569,"l":0.654,"c":0.65559},
{"i":426,"o":0.65559,"h":0.65661,"l":0.65548,"c":0.65648},
{"i":427,"o":0.65648,"h":0.65782,"l":0.65644,"c":0.65757},
{"i":428,"o":0.65757,"h":0.66042,"l":0.65754,"c":0.65967},
{"i":429,"o":0.65967,"h":0.65974,"l":0.65885,"c":0.65891},
{"i":430,"o":0.65891,"h":0.6594,"l":0.65768,"c":0.65782},
{"i":431,"o":0.65782,"h":0.65974,"l":0.65775,"c":0.65861},
{"i":432,"o":0.65861,"h":0.66022,"l":0.65747,"c":0.65902},
{"i":433,"o":0.65902,"h":0.66132,"l":0.6583,"c":0.66022},
{"i":434,"o":0.66022,"h":0.66166,"l":0.65994,"c":0.66063},
{"i":435,"o":0.66063,"h":0.66193,"l":0.66029,"c":0.66141},
{"i":436,"o":0.66141,"h":0.66361,"l":0.66122,"c":0.66317},
{"i":437,"o":0.66317,"h":0.66498,"l":0.6631,"c":0.6642},
{"i":438,"o":0.6642,"h":0.66667,"l":0.66413,"c":0.66526},
{"i":439,"o":0.66526,"h":0.66616,"l":0.66173,"c":0.66196},
{"i":440,"o":0.66196,"h":0.66207,"l":0.66111,"c":0.66177},
{"i":441,"o":0.66196,"h":0.66262,"l":0.66155,"c":0.66214},
{"i":442,"o":0.66214,"h":0.66303,"l":0.66187,"c":0.66276},
{"i":443,"o":0.66276,"h":0.66333,"l":0.66248,"c":0.66327},
{"i":444,"o":0.66279,"h":0.66438,"l":0.66221,"c":0.66351},
{"i":445,"o":0.66351,"h":0.6642,"l":0.66328,"c":0.66375},
{"i":446,"o":0.66375,"h":0.66388,"l":0.66173,"c":0.66224},
{"i":447,"o":0.66207,"h":0.66224,"l":0.66155,"c":0.66169},
{"i":448,"o":0.66177,"h":0.66235,"l":0.66139,"c":0.66169},
{"i":449,"o":0.66169,"h":0.66235,"l":0.66166,"c":0.66228},
{"i":450,"o":0.66228,"h":0.66626,"l":0.66221,"c":0.66553},
{"i":451,"o":0.66553,"h":0.66814,"l":0.6652,"c":0.66704},
{"i":452,"o":0.66704,"h":0.66722,"l":0.66589,"c":0.66612},
{"i":453,"o":0.66578,"h":0.66619,"l":0.6652,"c":0.66539},
{"i":454,"o":0.66539,"h":0.66548,"l":0.6632,"c":0.66338},
{"i":455,"o":0.66338,"h":0.66344,"l":0.66145,"c":0.66182},
{"i":456,"o":0.66141,"h":0.66285,"l":0.66117,"c":0.66258},
{"i":457,"o":0.66258,"h":0.66271,"l":0.661,"c":0.66133},
{"i":458,"o":0.66141,"h":0.66182,"l":0.66068,"c":0.66092},
{"i":459,"o":0.66089,"h":0.66109,"l":0.66027,"c":0.6606},
{"i":460,"o":0.6606,"h":0.66109,"l":0.65933,"c":0.65965},
{"i":461,"o":0.65965,"h":0.65991,"l":0.65864,"c":0.65889},
{"i":462,"o":0.65894,"h":0.65897,"l":0.65685,"c":0.65802},
{"i":463,"o":0.65802,"h":0.65864,"l":0.6575,"c":0.65845},
{"i":464,"o":0.65845,"h":0.65894,"l":0.65791,"c":0.65812},
{"i":465,"o":0.65807,"h":0.65872,"l":0.6575,"c":0.6577},
{"i":466,"o":0.65767,"h":0.65799,"l":0.65685,"c":0.65693},
{"i":467,"o":0.65693,"h":0.65872,"l":0.65656,"c":0.6582},
{"i":468,"o":0.6582,"h":0.65897,"l":0.6571,"c":0.65783},
{"i":469,"o":0.65783,"h":0.65929,"l":0.6571,"c":0.65754},
{"i":470,"o":0.65755,"h":0.65783,"l":0.65701,"c":0.65742},
{"i":471,"o":0.65742,"h":0.65929,"l":0.65633,"c":0.65783},
{"i":472,"o":0.65783,"h":0.65877,"l":0.65693,"c":0.65701},
{"i":473,"o":0.65701,"h":0.65714,"l":0.65644,"c":0.65653},
{"i":474,"o":0.65656,"h":0.65677,"l":0.65587,"c":0.65609},
{"i":475,"o":0.65609,"h":0.65693,"l":0.65563,"c":0.65672},
{"i":476,"o":0.65677,"h":0.65685,"l":0.65636,"c":0.65665},
{"i":477,"o":0.6568,"h":0.65734,"l":0.65449,"c":0.65454},
{"i":478,"o":0.65449,"h":0.65473,"l":0.65278,"c":0.65343},
{"i":479,"o":0.65343,"h":0.65408,"l":0.6531,"c":0.65389},
{"i":480,"o":0.65384,"h":0.65392,"l":0.65091,"c":0.65099},
{"i":481,"o":0.65095,"h":0.65188,"l":0.64949,"c":0.64952},
{"i":482,"o":0.64955,"h":0.6496,"l":0.64879,"c":0.6489},
{"i":483,"o":0.64985,"h":0.65025,"l":0.64936,"c":0.65017},
{"i":484,"o":0.65017,"h":0.65099,"l":0.65001,"c":0.65074},
{"i":485,"o":0.65074,"h":0.65131,"l":0.65066,"c":0.65123},
{"i":486,"o":0.65123,"h":0.65144,"l":0.65034,"c":0.65037},
{"i":487,"o":0.65037,"h":0.65042,"l":0.64972,"c":0.64981},
{"i":488,"o":0.64981,"h":0.65001,"l":0.64916,"c":0.64939},
{"i":489,"o":0.64939,"h":0.65001,"l":0.64936,"c":0.64981},
{"i":490,"o":0.64939,"h":0.65001,"l":0.64903,"c":0.64988},
{"i":491,"o":0.64939,"h":0.65091,"l":0.64936,"c":0.65079},
{"i":492,"o":0.65079,"h":0.65099,"l":0.65034,"c":0.65082},
{"i":493,"o":0.65079,"h":0.65376,"l":0.65066,"c":0.65258},
{"i":494,"o":0.65258,"h":0.65302,"l":0.652,"c":0.65286},
{"i":495,"o":0.65286,"h":0.65392,"l":0.65262,"c":0.65335},
{"i":496,"o":0.6533,"h":0.65343,"l":0.65232,"c":0.65265},
{"i":497,"o":0.65265,"h":0.65278,"l":0.65193,"c":0.65221},
{"i":498,"o":0.65218,"h":0.65294,"l":0.6521,"c":0.65216},
{"i":499,"o":0.65216,"h":0.65319,"l":0.65139,"c":0.65297},
{"i":500,"o":0.65297,"h":0.65628,"l":0.65278,"c":0.65367},
{"i":501,"o":0.65351,"h":0.65783,"l":0.65327,"c":0.65775},
{"i":502,"o":0.65775,"h":0.65807,"l":0.6562,"c":0.65677},
{"i":503,"o":0.65677,"h":0.65881,"l":0.65661,"c":0.65845},
{"i":504,"o":0.65845,"h":0.6597,"l":0.65815,"c":0.65884},
{"i":505,"o":0.65885,"h":0.65929,"l":0.65734,"c":0.65885},
{"i":506,"o":0.65885,"h":0.65954,"l":0.65824,"c":0.65856},
{"i":507,"o":0.65791,"h":0.65929,"l":0.65767,"c":0.6591},
{"i":508,"o":0.6591,"h":0.65986,"l":0.65881,"c":0.65933},
{"i":509,"o":0.65933,"h":0.65982,"l":0.65653,"c":0.65688},
{"i":510,"o":0.65688,"h":0.65714,"l":0.65542,"c":0.656},
{"i":511,"o":0.656,"h":0.65791,"l":0.65555,"c":0.65742},
{"i":512,"o":0.65742,"h":0.65916,"l":0.65721,"c":0.65884},
{"i":513,"o":0.65884,"h":0.65962,"l":0.65861,"c":0.65949},
{"i":514,"o":0.65949,"h":0.66019,"l":0.65905,"c":0.65995},
{"i":515,"o":0.65995,"h":0.66149,"l":0.65986,"c":0.66112},
{"i":516,"o":0.66112,"h":0.66157,"l":0.65978,"c":0.65995},
{"i":517,"o":0.65995,"h":0.66263,"l":0.65982,"c":0.66206},
{"i":518,"o":0.66206,"h":0.66226,"l":0.66144,"c":0.66182},
{"i":519,"o":0.66177,"h":0.66394,"l":0.66149,"c":0.66369},
{"i":520,"o":0.66369,"h":0.66529,"l":0.6635,"c":0.66486},
{"i":521,"o":0.66486,"h":0.665,"l":0.66353,"c":0.66447},
{"i":522,"o":0.6647,"h":0.665,"l":0.66434,"c":0.66447},
{"i":523,"o":0.6647,"h":0.66617,"l":0.66353,"c":0.66483},
{"i":524,"o":0.66431,"h":0.66561,"l":0.66285,"c":0.66402},
{"i":525,"o":0.66402,"h":0.66418,"l":0.66271,"c":0.6632},
{"i":526,"o":0.6632,"h":0.66532,"l":0.65938,"c":0.66519},
{"i":527,"o":0.66519,"h":0.66724,"l":0.66516,"c":0.66649},
{"i":528,"o":0.66649,"h":0.66855,"l":0.66643,"c":0.66812},
{"i":529,"o":0.66812,"h":0.66926,"l":0.66744,"c":0.66899},
{"i":530,"o":0.66903,"h":0.66915,"l":0.66752,"c":0.66817},
{"i":531,"o":0.66817,"h":0.66855,"l":0.66752,"c":0.66829},
{"i":532,"o":0.66809,"h":0.66842,"l":0.66744,"c":0.66817},
{"i":533,"o":0.66817,"h":0.6692,"l":0.66711,"c":0.66894},
{"i":534,"o":0.66894,"h":0.66964,"l":0.66882,"c":0.6691},
{"i":535,"o":0.6691,"h":0.67013,"l":0.66882,"c":0.66985},
{"i":536,"o":0.66988,"h":0.67017,"l":0.66975,"c":0.6698},
{"i":537,"o":0.6698,"h":0.67086,"l":0.66972,"c":0.67034},
{"i":538,"o":0.67034,"h":0.67053,"l":0.66903,"c":0.66988},
{"i":539,"o":0.66988,"h":0.67118,"l":0.66985,"c":0.67089},
{"i":540,"o":0.6707,"h":0.67127,"l":0.6704,"c":0.67099},
{"i":541,"o":0.67089,"h":0.67208,"l":0.67053,"c":0.67099},
{"i":542,"o":0.67094,"h":0.67184,"l":0.6707,"c":0.67164},
{"i":543,"o":0.67224,"h":0.67268,"l":0.67102,"c":0.67115},
{"i":544,"o":0.67115,"h":0.67127,"l":0.66991,"c":0.67089},
{"i":545,"o":0.67094,"h":0.67102,"l":0.66931,"c":0.67086},
{"i":546,"o":0.67083,"h":0.67089,"l":0.66936,"c":0.66959},
{"i":547,"o":0.66959,"h":0.67001,"l":0.66687,"c":0.66695},
{"i":548,"o":0.66698,"h":0.66763,"l":0.66682,"c":0.66708},
{"i":549,"o":0.66698,"h":0.66757,"l":0.66679,"c":0.66728},
{"i":550,"o":0.66728,"h":0.66809,"l":0.66682,"c":0.66773},
{"i":551,"o":0.66773,"h":0.66793,"l":0.66565,"c":0.6663},
{"i":552,"o":0.6663,"h":0.66703,"l":0.66584,"c":0.66675},
{"i":553,"o":0.66675,"h":0.66793,"l":0.66671,"c":0.66773},
{"i":554,"o":0.66773,"h":0.66793,"l":0.66687,"c":0.66719},
{"i":555,"o":0.66719,"h":0.66833,"l":0.66675,"c":0.66809},
{"i":556,"o":0.66809,"h":0.66833,"l":0.6676,"c":0.66789},
{"i":557,"o":0.66789,"h":0.66931,"l":0.66747,"c":0.66923},
{"i":558,"o":0.66923,"h":0.66931,"l":0.66825,"c":0.66887},
{"i":559,"o":0.66887,"h":0.67192,"l":0.66882,"c":0.67089},
{"i":560,"o":0.67083,"h":0.67102,"l":0.6707,"c":0.67089},
{"i":561,"o":0.67083,"h":0.67118,"l":0.66996,"c":0.67066},
{"i":562,"o":0.67068,"h":0.672,"l":0.67061,"c":0.67066},
{"i":563,"o":0.67066,"h":0.67086,"l":0.66768,"c":0.66793},
{"i":564,"o":0.66793,"h":0.66882,"l":0.66776,"c":0.66874},
{"i":565,"o":0.66874,"h":0.66894,"l":0.66858,"c":0.66861},
{"i":566,"o":0.66862,"h":0.66894,"l":0.66855,"c":0.66861},
{"i":567,"o":0.66862,"h":0.66939,"l":0.66855,"c":0.6686},
{"i":568,"o":0.66858,"h":0.66939,"l":0.6678,"c":0.66785},
{"i":569,"o":0.66785,"h":0.66806,"l":0.66695,"c":0.66703},
{"i":570,"o":0.66703,"h":0.66719,"l":0.6632,"c":0.66377},
{"i":571,"o":0.66375,"h":0.66383,"l":0.66015,"c":0.66186},
{"i":572,"o":0.66191,"h":0.66279,"l":0.66175,"c":0.66247},
{"i":573,"o":0.66255,"h":0.66319,"l":0.66215,"c":0.66319},
{"i":574,"o":0.66314,"h":0.66415,"l":0.66311,"c":0.66407},
{"i":575,"o":0.66399,"h":0.66526,"l":0.66391,"c":0.66462},
{"i":576,"o":0.66458,"h":0.66462,"l":0.66391,"c":0.66438},
{"i":577,"o":0.66438,"h":0.66446,"l":0.66223,"c":0.66247},
{"i":578,"o":0.66244,"h":0.66295,"l":0.66199,"c":0.66207},
{"i":579,"o":0.66223,"h":0.66311,"l":0.66223,"c":0.66247},
{"i":580,"o":0.66247,"h":0.66311,"l":0.66231,"c":0.66295},
{"i":581,"o":0.6629,"h":0.66298,"l":0.6614,"c":0.66148},
{"i":582,"o":0.66148,"h":0.66175,"l":0.66039,"c":0.66055},
{"i":583,"o":0.66143,"h":0.66143,"l":0.66,"c":0.66071},
{"i":584,"o":0.66071,"h":0.66111,"l":0.66023,"c":0.66031},
{"i":585,"o":0.66039,"h":0.66039,"l":0.65976,"c":0.65984},
{"i":586,"o":0.65984,"h":0.65992,"l":0.65664,"c":0.65976},
{"i":587,"o":0.65976,"h":0.66047,"l":0.65944,"c":0.66043},
{"i":588,"o":0.66043,"h":0.66526,"l":0.65944,"c":0.66454},
{"i":589,"o":0.66454,"h":0.66542,"l":0.66335,"c":0.66534},
{"i":590,"o":0.66534,"h":0.66566,"l":0.66419,"c":0.66462},
{"i":591,"o":0.6647,"h":0.6655,"l":0.66415,"c":0.66534},
{"i":592,"o":0.66494,"h":0.66686,"l":0.66454,"c":0.66678},
{"i":593,"o":0.66678,"h":0.6671,"l":0.6667,"c":0.66705},
{"i":594,"o":0.66702,"h":0.66882,"l":0.66646,"c":0.6679},
{"i":595,"o":0.6679,"h":0.66834,"l":0.6659,"c":0.66646},
{"i":596,"o":0.66686,"h":0.6671,"l":0.66566,"c":0.66638},
{"i":597,"o":0.66622,"h":0.6683,"l":0.66574,"c":0.66705},
{"i":598,"o":0.66702,"h":0.66854,"l":0.66694,"c":0.6683},
{"i":599,"o":0.6683,"h":0.6687,"l":0.66806,"c":0.66818},
{"i":600,"o":0.66818,"h":0.66862,"l":0.66614,"c":0.66638},
{"i":601,"o":0.66638,"h":0.66925,"l":0.6663,"c":0.66917},
{"i":602,"o":0.66914,"h":0.66969,"l":0.66886,"c":0.66949},
{"i":603,"o":0.66914,"h":0.67032,"l":0.66838,"c":0.67029},
{"i":604,"o":0.67029,"h":0.67208,"l":0.66994,"c":0.67197},
{"i":605,"o":0.67197,"h":0.67253,"l":0.67189,"c":0.67213},
{"i":606,"o":0.67213,"h":0.6734,"l":0.67157,"c":0.6724},
{"i":607,"o":0.6724,"h":0.67256,"l":0.67125,"c":0.67189},
{"i":608,"o":0.67181,"h":0.67205,"l":0.67157,"c":0.67189},
{"i":609,"o":0.67189,"h":0.67364,"l":0.67141,"c":0.67253},
{"i":610,"o":0.67253,"h":0.67377,"l":0.67245,"c":0.67332},
{"i":611,"o":0.67332,"h":0.67352,"l":0.67205,"c":0.67256},
{"i":612,"o":0.67256,"h":0.67269,"l":0.67157,"c":0.67165},
{"i":613,"o":0.67165,"h":0.67173,"l":0.67013,"c":0.67029},
{"i":614,"o":0.67077,"h":0.67109,"l":0.66953,"c":0.67005},
{"i":615,"o":0.67005,"h":0.67101,"l":0.66965,"c":0.67058},
{"i":616,"o":0.67058,"h":0.67141,"l":0.66997,"c":0.67128},
{"i":617,"o":0.67128,"h":0.67234,"l":0.67085,"c":0.67197},
{"i":618,"o":0.67197,"h":0.67288,"l":0.67173,"c":0.67208},
{"i":619,"o":0.67205,"h":0.67463,"l":0.67189,"c":0.67436},
{"i":620,"o":0.67436,"h":0.67444,"l":0.67285,"c":0.67293},
{"i":621,"o":0.67293,"h":0.67348,"l":0.67261,"c":0.67345},
{"i":622,"o":0.6734,"h":0.6746,"l":0.67285,"c":0.67396},
{"i":623,"o":0.67393,"h":0.67428,"l":0.67372,"c":0.67396},
{"i":624,"o":0.67393,"h":0.67463,"l":0.67329,"c":0.674},
{"i":625,"o":0.6738,"h":0.67553,"l":0.67372,"c":0.67543},
{"i":626,"o":0.67543,"h":0.67867,"l":0.67532,"c":0.67819},
{"i":627,"o":0.67815,"h":0.67891,"l":0.67652,"c":0.67803},
{"i":628,"o":0.67771,"h":0.67899,"l":0.67767,"c":0.67803},
{"i":629,"o":0.67819,"h":0.67824,"l":0.6766,"c":0.6768},
{"i":630,"o":0.6768,"h":0.67779,"l":0.67676,"c":0.67751},
{"i":631,"o":0.67751,"h":0.67835,"l":0.67668,"c":0.67755},
{"i":632,"o":0.67755,"h":0.67763,"l":0.6758,"c":0.67617},
{"i":633,"o":0.67633,"h":0.67684,"l":0.6758,"c":0.67596},
{"i":634,"o":0.67596,"h":0.67787,"l":0.67588,"c":0.67751},
{"i":635,"o":0.67751,"h":0.67815,"l":0.67612,"c":0.67776},
{"i":636,"o":0.67771,"h":0.67859,"l":0.67719,"c":0.67835},
{"i":637,"o":0.67835,"h":0.67867,"l":0.67712,"c":0.67732},
{"i":638,"o":0.67732,"h":0.67735,"l":0.67569,"c":0.67572},
{"i":639,"o":0.67588,"h":0.67596,"l":0.67396,"c":0.67404},
{"i":640,"o":0.67404,"h":0.67412,"l":0.67293,"c":0.67309},
{"i":641,"o":0.67313,"h":0.67368,"l":0.67261,"c":0.67269},
{"i":642,"o":0.67277,"h":0.67368,"l":0.67173,"c":0.67229},
{"i":643,"o":0.67229,"h":0.67285,"l":0.67037,"c":0.67045},
{"i":644,"o":0.67048,"h":0.67058,"l":0.66994,"c":0.67021},
{"i":645,"o":0.67029,"h":0.67032,"l":0.66925,"c":0.66957},
{"i":646,"o":0.66957,"h":0.67013,"l":0.66917,"c":0.66953},
{"i":647,"o":0.66954,"h":0.66985,"l":0.66917,"c":0.66953},
{"i":648,"o":0.66953,"h":0.67085,"l":0.66914,"c":0.67064},
{"i":649,"o":0.67064,"h":0.67229,"l":0.67013,"c":0.67109},
{"i":650,"o":0.67109,"h":0.67141,"l":0.67013,"c":0.67045},
{"i":651,"o":0.67037,"h":0.67064,"l":0.67013,"c":0.67026},
{"i":652,"o":0.67029,"h":0.67069,"l":0.66949,"c":0.66957},
{"i":653,"o":0.66957,"h":0.66994,"l":0.66846,"c":0.66846},
{"i":654,"o":0.66846,"h":0.66994,"l":0.66838,"c":0.66941},
{"i":655,"o":0.66941,"h":0.66969,"l":0.6655,"c":0.66558},
{"i":656,"o":0.66558,"h":0.66638,"l":0.66534,"c":0.6663},
{"i":657,"o":0.66638,"h":0.66702,"l":0.6655,"c":0.66558},
{"i":658,"o":0.66558,"h":0.66598,"l":0.66534,"c":0.66542},
{"i":659,"o":0.6655,"h":0.66574,"l":0.66454,"c":0.66458},
{"i":660,"o":0.66494,"h":0.66494,"l":0.66375,"c":0.66415},
{"i":661,"o":0.66415,"h":0.66462,"l":0.66263,"c":0.66311},
{"i":662,"o":0.66312,"h":0.66351,"l":0.66257,"c":0.66329}
    ]
  },
  "layer": [
    {
      "data": {"name": "bars"},
      "transform": [{"filter": "datum.i === 662"}],
      "mark": {"type": "rule", "strokeWidth": 1, "color": "#C0C0C0"},
      "encoding": {
        "y": {"field": "c", "type": "quantitative", "scale": {"domain": [0.64701, 0.69631], "nice": false, "zero": false}}
      }
    },
    {
      "data": {"name": "levels"},
      "mark": {"type": "rule", "strokeWidth": 1},
      "encoding": {
        "y": {"field": "p", "type": "quantitative", "scale": {"domain": [0.64701, 0.69631], "nice": false, "zero": false}},
        "color": {
          "field": "m", "type": "nominal",
          "scale": {
            "domain": ["+2/8", "+1/8", "8/8", "7/8", "6/8", "5/8", "4/8", "3/8", "2/8", "1/8", "0/8", "-1/8", "-2/8"],
            "range": ["#C71585", "#FF00FF", "#1E90FF", "#FF8C00", "#FF4500", "#556B2F", "#1E90FF", "#556B2F", "#FF4500", "#FF8C00", "#1E90FF", "#FF00FF", "#C71585"]
          },
          "legend": null
        },
        "strokeDash": {
          "condition": {"test": "indexof(['8/8', '4/8', '0/8'], datum.m) >= 0", "value": [1, 0]},
          "value": [14, 10]
        }
      }
    },
    {
      "data": {"name": "levels"},
      "mark": {"type": "text", "align": "center", "baseline": "top", "dy": 1, "fontSize": 20, "font": "Liberation Sans"},
      "encoding": {
        "x": {"datum": 636, "type": "quantitative", "scale": {"domain": [-0.25, 935.5], "nice": false, "zero": false}},
        "y": {"field": "p", "type": "quantitative", "scale": {"domain": [0.64701, 0.69631], "nice": false, "zero": false}},
        "text": {"field": "t"},
        "color": {"field": "m", "type": "nominal", "legend": null}
      }
    },
    {
      "data": {"name": "bars"},
      "mark": {"type": "rule", "color": "#000000", "strokeWidth": 1.2},
      "encoding": {
        "x": {
          "field": "i", "type": "quantitative",
          "scale": {"domain": [-0.25, 935.5], "nice": false, "zero": false},
          "axis": {
            "orient": "bottom",
            "values": [0, 16, 32, 48, 64, 80, 96, 112, 128, 144, 160, 176, 192, 208, 224, 240, 256, 272, 288, 304, 320, 336, 352, 368, 384, 400, 416, 432, 448, 464, 480, 496, 512, 528, 544, 560, 576, 592, 608, 624, 640, 656, 672, 688, 704, 720, 736, 752, 768, 784, 800, 816, 832, 848, 864, 880, 896, 912, 928],
            "labelExpr": "datum.value % 32 === 0 && datum.value <= 640 ? ['22 Feb 2019', '1 Mar 20:00', '11 Mar 04:00', '18 Mar 12:00', '25 Mar 20:00', '2 Apr 04:00', '9 Apr 12:00', '16 Apr 20:00', '24 Apr 04:00', '1 May 12:00', '8 May 20:00', '16 May 04:00', '23 May 12:00', '30 May 20:00', '7 Jun 04:00', '14 Jun 12:00', '21 Jun 20:00', '1 Jul 04:00', '8 Jul 12:00', '15 Jul 20:00', '23 Jul 04:00'][datum.value / 32] : ''",
            "labelAlign": "left",
            "labelBaseline": "top",
            "labelPadding": 1,
            "labelOffset": 2,
            "labelOverlap": false,
            "labelBound": false,
            "labelFlush": false,
            "tickSize": 5,
            "tickOpacity": {"condition": {"test": "datum.value % 32 === 0 && datum.value <= 640", "value": 1}, "value": 0},
            "grid": true,
            "title": null
          }
        },
        "y": {
          "field": "l", "type": "quantitative",
          "scale": {"domain": [0.64701, 0.69631], "nice": false, "zero": false},
          "axis": {
            "orient": "right",
            "values": [0.6479, 0.64955, 0.6512, 0.65285, 0.6545, 0.65615, 0.6578, 0.65945, 0.6611, 0.66275, 0.6644, 0.66605, 0.6677, 0.66935, 0.671, 0.67265, 0.6743, 0.67595, 0.6776, 0.67925, 0.6809, 0.68255, 0.6842, 0.68585, 0.6875, 0.68915, 0.6908, 0.69245, 0.6941, 0.69575],
            "format": ".5f",
            "labelAlign": "left",
            "labelBaseline": "middle",
            "labelPadding": 3,
            "tickSize": 5,
            "grid": true,
            "title": null,
            "labelOverlap": false,
            "labelBound": false,
            "labelFlush": false
          }
        },
        "y2": {"field": "h"}
      }
    },
    {
      "data": {"name": "bars"},
      "mark": {"type": "bar", "size": 2.2, "strokeWidth": 1, "stroke": "#000000"},
      "encoding": {
        "x": {"field": "i", "type": "quantitative", "scale": {"domain": [-0.25, 935.5], "nice": false, "zero": false}},
        "y": {"field": "o", "type": "quantitative", "scale": {"domain": [0.64701, 0.69631], "nice": false, "zero": false}},
        "y2": {"field": "c"},
        "fill": {"condition": {"test": "datum.c >= datum.o", "value": "#FFFFFF"}, "value": "#000000"}
      }
    },
    {
      "data": {"name": "crosses"},
      "mark": {"type": "point", "shape": "M-1,-0.85L1,0.85M-1,0.85L1,-0.85", "size": 1100, "filled": false, "strokeWidth": 5, "color": "#EE4545", "strokeCap": "round", "opacity": 1},
      "encoding": {
        "x": {"field": "i", "type": "quantitative", "scale": {"domain": [-0.25, 935.5], "nice": false, "zero": false}},
        "y": {"field": "p", "type": "quantitative", "scale": {"domain": [0.64701, 0.69631], "nice": false, "zero": false}}
      }
    },
    {
      "data": {"name": "levels"},
      "mark": {"type": "tick", "orient": "horizontal", "size": 80, "thickness": 22, "opacity": 1},
      "encoding": {
        "x": {"datum": 945.75, "type": "quantitative", "scale": {"domain": [-0.25, 935.5], "nice": false, "zero": false}},
        "y": {"field": "p", "type": "quantitative", "scale": {"domain": [0.64701, 0.69631], "nice": false, "zero": false}},
        "color": {"field": "m", "type": "nominal", "legend": null}
      }
    },
    {
      "data": {"name": "levels"},
      "mark": {"type": "text", "align": "center", "baseline": "middle", "fontSize": 18, "color": "#FFFFFF"},
      "encoding": {
        "x": {"datum": 945.75, "type": "quantitative", "scale": {"domain": [-0.25, 935.5], "nice": false, "zero": false}},
        "y": {"field": "p", "type": "quantitative", "scale": {"domain": [0.64701, 0.69631], "nice": false, "zero": false}},
        "text": {"field": "p", "type": "quantitative", "format": ".5f"}
      }
    },
    {
      "data": {"name": "bars"},
      "transform": [{"filter": "datum.i === 662"}],
      "mark": {"type": "tick", "orient": "horizontal", "size": 80, "thickness": 22, "color": "#000000", "opacity": 1},
      "encoding": {
        "x": {"datum": 945.75, "type": "quantitative", "scale": {"domain": [-0.25, 935.5], "nice": false, "zero": false}},
        "y": {"field": "c", "type": "quantitative", "scale": {"domain": [0.64701, 0.69631], "nice": false, "zero": false}}
      }
    },
    {
      "data": {"name": "bars"},
      "transform": [{"filter": "datum.i === 662"}],
      "mark": {"type": "text", "align": "center", "baseline": "middle", "fontSize": 18, "color": "#FFFFFF"},
      "encoding": {
        "x": {"datum": 945.75, "type": "quantitative", "scale": {"domain": [-0.25, 935.5], "nice": false, "zero": false}},
        "y": {"field": "c", "type": "quantitative", "scale": {"domain": [0.64701, 0.69631], "nice": false, "zero": false}},
        "text": {"field": "c", "type": "quantitative", "format": ".5f"}
      }
    },
    {
      "data": {"values": [{"t": "NZDUSD,H4\u00a0 0.66312 0.66351 0.66257 0.66329"}]},
      "mark": {"type": "text", "align": "left", "baseline": "middle", "fontSize": 18, "color": "#000000"},
      "encoding": {
        "x": {"datum": 7, "type": "quantitative", "scale": {"domain": [-0.25, 935.5], "nice": false, "zero": false}},
        "y": {"datum": 0.69591, "type": "quantitative", "scale": {"domain": [0.64701, 0.69631], "nice": false, "zero": false}},
        "text": {"field": "t"}
      }
    },
    {
      "data": {"values": [{"k": "symbol"}]},
      "mark": {"type": "point", "shape": "triangle-down", "size": 45, "filled": true, "color": "#000000", "opacity": 1},
      "encoding": {
        "x": {"datum": 2, "type": "quantitative", "scale": {"domain": [-0.25, 935.5], "nice": false, "zero": false}},
        "y": {"datum": 0.69591, "type": "quantitative", "scale": {"domain": [0.64701, 0.69631], "nice": false, "zero": false}}
      }
    },
    {
      "data": {"values": [{"k": "shift"}]},
      "mark": {"type": "point", "shape": "triangle-down", "size": 160, "filled": true, "color": "#A8A8A8", "opacity": 1},
      "encoding": {
        "x": {"datum": 663.75, "type": "quantitative", "scale": {"domain": [-0.25, 935.5], "nice": false, "zero": false}},
        "y": {"datum": 0.69621, "type": "quantitative", "scale": {"domain": [0.64701, 0.69631], "nice": false, "zero": false}}
      }
    }
  ]
}
